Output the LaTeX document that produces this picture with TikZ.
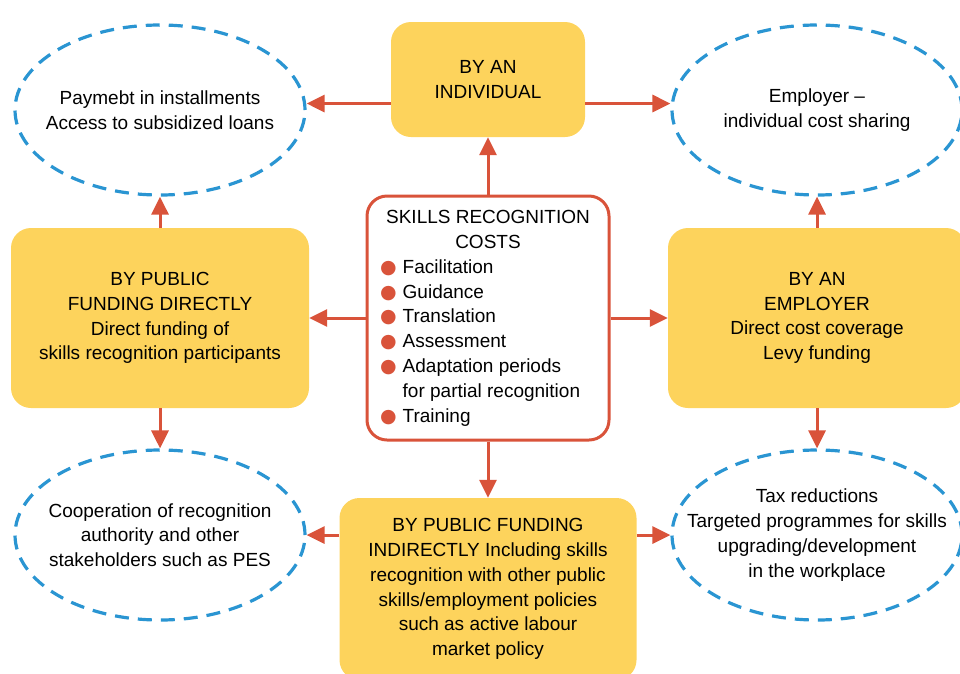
\documentclass[tikz,border=0pt]{standalone}
\usepackage{fontspec}
\setmainfont{Liberation Sans}
\newfontfamily\symfont{DejaVu Sans}
\usetikzlibrary{shapes.geometric,arrows.meta}
\definecolor{boxyellow}{HTML}{FDD35C}
\definecolor{linkred}{HTML}{D9533A}
\definecolor{ovalblue}{HTML}{2A95D2}
\newcommand{\costdot}{\textcolor{linkred}{\symfont ●}}

\begin{document}
\begin{tikzpicture}[x=1pt,y=-1pt,
    font=\fontsize{19}{24.8}\selectfont,
    way/.style={fill=boxyellow,rounded corners=20pt,align=center,minimum width=298pt,minimum height=180pt},
    oval/.style={ellipse,draw=ovalblue,line width=3.2pt,dash pattern=on 14pt off 9pt,align=center,
        minimum width=290pt,minimum height=170pt,inner xsep=-60pt,inner ysep=-50pt},
    link/.style={draw=linkred,line width=3pt,-{Triangle[length=18pt,width=17pt]}}]
    \clip (0,0) rectangle (960,673);
    \node[way,minimum width=194pt,minimum height=115pt] (I) at (488,79.5) {BY AN\\INDIVIDUAL};
    \node[way] (D) at (160,318) {BY PUBLIC\\FUNDING DIRECTLY\\Direct funding of\\skills recognition participants};
    \node[way] (E) at (817,318) {BY AN\\EMPLOYER\\Direct cost coverage\\Levy funding};
    \node[way,minimum width=297pt,minimum height=182pt] (N) at (488,589) {BY PUBLIC FUNDING\\INDIRECTLY Including skills\\recognition with other public\\skills/employment policies\\such as active labour\\market policy};
    \node[oval] (Pay) at (160,110) {Paymebt in installments\\Access to subsidized loans};
    \node[oval] (Share) at (817,110) {Employer --\\individual cost sharing};
    \node[oval] (Coop) at (160,535) {Cooperation of recognition\\authority and other\\stakeholders such as PES};
    \node[oval] (Tax) at (817,535) {Tax reductions\\Targeted programmes for skills\\upgrading/development\\in the workplace};
    \node[draw=linkred,line width=3pt,fill=white,rounded corners=20pt,minimum width=242pt,minimum height=244pt,inner sep=0pt] (C) at (488,318)
        {\begin{tabular}{@{}c@{\hspace{6pt}}l@{}}
            \multicolumn{2}{c}{SKILLS RECOGNITION}\\
            \multicolumn{2}{c}{COSTS}\\
            \costdot & Facilitation\\
            \costdot & Guidance\\
            \costdot & Translation\\
            \costdot & Assessment\\
            \costdot & Adaptation periods\\
                     & for partial recognition\\
            \costdot & Training
        \end{tabular}};
    % arrows out of the boxes
    \coordinate (i1) at ([yshift=-24pt]I.west);
    \coordinate (i2) at ([yshift=-24pt]I.east);
    \draw[link] (i1) -- (i1 -| Pay.east);
    \draw[link] (i2) -- (i2 -| Share.west);
    \draw[link] (C.north) -- (I.south);
    \draw[link] (C.west) -- (D.east);
    \draw[link] (C.east) -- (E.west);
    \draw[link] (C.south) -- (N.north);
    \draw[link] (D.north) -- (Pay.south);
    \draw[link] (D.south) -- (Coop.north);
    \draw[link] (E.north) -- (Share.south);
    \draw[link] (E.south) -- (Tax.north);
    \draw[link] (N.west |- Coop.east) -- (Coop.east);
    \draw[link] (N.east |- Tax.west) -- (Tax.west);
\end{tikzpicture}
\end{document}
